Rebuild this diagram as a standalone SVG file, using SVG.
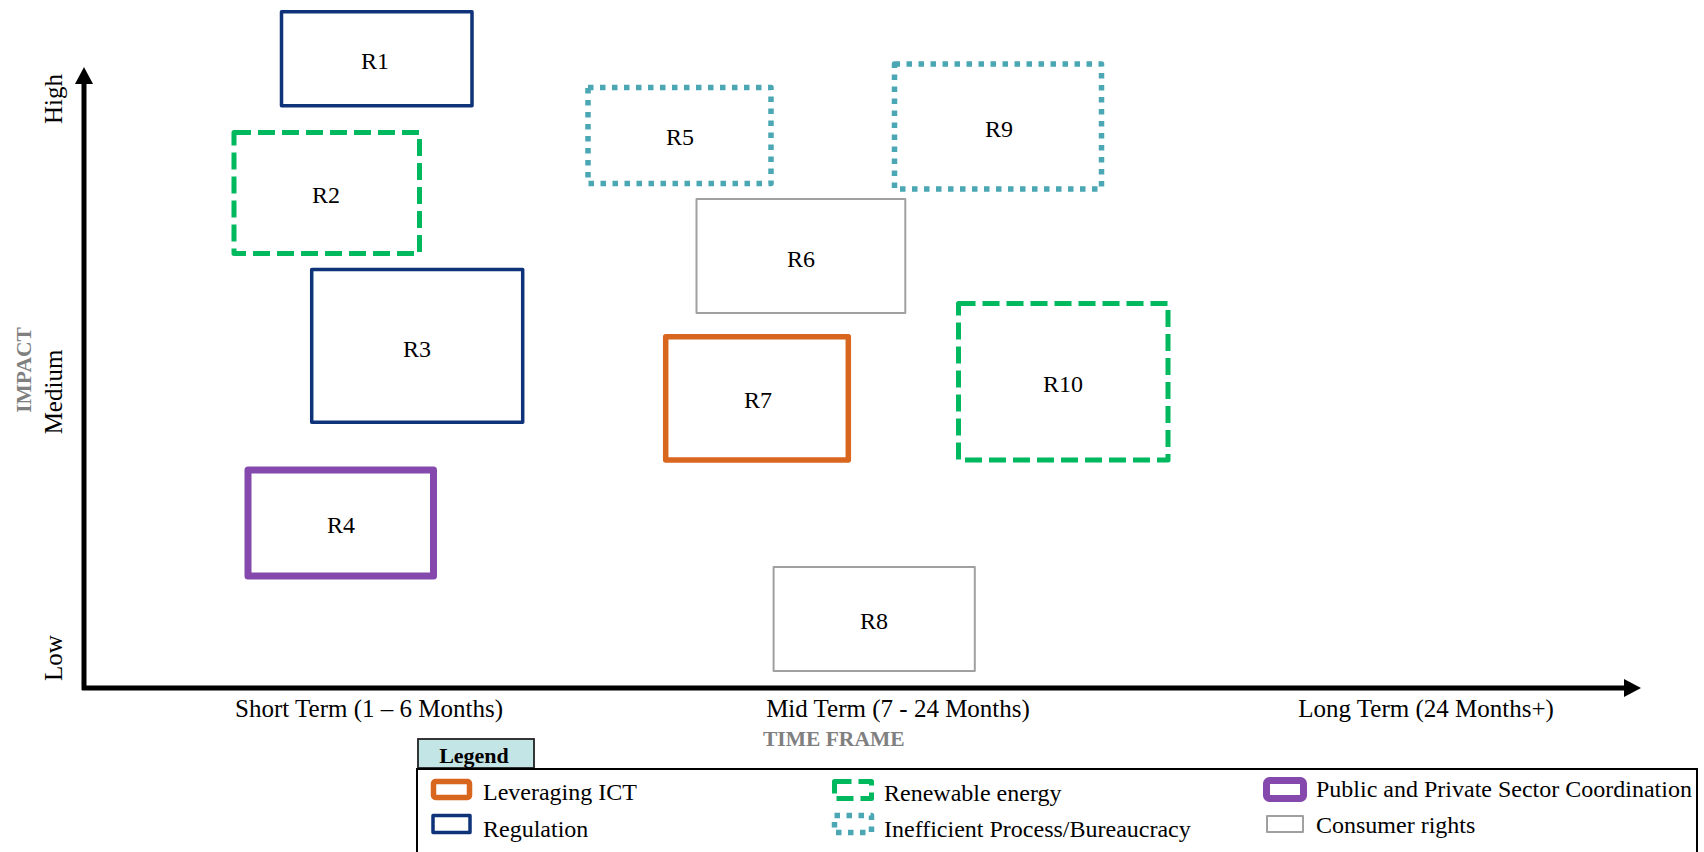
<svg xmlns="http://www.w3.org/2000/svg" width="1704" height="852" viewBox="0 0 1704 852">
<defs>
<style>
text{font-family:"Liberation Serif","Times New Roman",serif;fill:#000}
.lbl{font-size:24px;text-anchor:middle}
.ax{font-size:25px;text-anchor:middle}
.lg{font-size:24px}
.ttl{font-size:21.5px;font-weight:bold;fill:#808080}
.box{fill:#fff;stroke-linejoin:round}
.reg{stroke:#0F3379;stroke-width:3.5}
.ren{stroke:#00B85E;stroke-width:5;stroke-dasharray:17 7}
.ineff{stroke:#4AA7B3;stroke-width:5.5;stroke-dasharray:5.5 6.5}
.cons{stroke:#A0A0A0;stroke-width:2}
.ict{stroke:#D9661F;stroke-width:5.5}
.pub{stroke:#8549AE;stroke-width:7}
.axis{stroke:#000;stroke-width:5;fill:none}
</style>
<marker id="arr" viewBox="0 0 17 18" refX="1" refY="9" markerWidth="17" markerHeight="18" markerUnits="userSpaceOnUse" orient="auto">
<path d="M0,0 L17,9 L0,18 Z" fill="#000"/>
</marker>
</defs>
<rect x="0" y="0" width="1704" height="852" fill="#fff"/>

<g id="connectors">
<path class="axis" d="M84,690 L84,83" marker-end="url(#arr)"/>
<path class="axis" d="M82,688 L1625,688" marker-end="url(#arr)"/>
</g>

<g id="axis-labels">
<text class="ax" transform="translate(61.5,99) rotate(-90)">High</text>
<text class="ax" transform="translate(61.5,392) rotate(-90)">Medium</text>
<text class="ax" transform="translate(61.5,658) rotate(-90)">Low</text>
<text class="ttl" text-anchor="middle" transform="translate(30.5,370) rotate(-90)">IMPACT</text>
<text class="ax" x="369" y="717">Short Term (1 – 6 Months)</text>
<text class="ax" x="898" y="717">Mid Term (7 - 24 Months)</text>
<text class="ax" x="1426" y="717">Long Term (24 Months+)</text>
<text class="ttl" x="763" y="746">TIME FRAME</text>
</g>

<g id="R1"><rect class="box reg" x="281.5" y="11.7" width="190.5" height="94"/><text class="lbl" x="375" y="69">R1</text></g>
<g id="R2"><rect class="box ren" x="234" y="132.5" width="185.5" height="121"/><text class="lbl" x="326" y="203">R2</text></g>
<g id="R3"><rect class="box reg" x="311.7" y="269.5" width="211" height="152.7"/><text class="lbl" x="417" y="357">R3</text></g>
<g id="R4"><rect class="box pub" x="248" y="470" width="185.5" height="106"/><text class="lbl" x="341" y="533">R4</text></g>
<g id="R5"><rect class="box ineff" x="588" y="87.5" width="183" height="96"/><text class="lbl" x="680" y="145">R5</text></g>
<g id="R6"><rect class="box cons" x="696.5" y="199" width="208.8" height="114"/><text class="lbl" x="801" y="267">R6</text></g>
<g id="R7"><rect class="box ict" x="665.7" y="336.7" width="182.6" height="123.3"/><text class="lbl" x="758" y="408">R7</text></g>
<g id="R8"><rect class="box cons" x="773.6" y="567" width="201.2" height="104"/><text class="lbl" x="874" y="629">R8</text></g>
<g id="R9"><rect class="box ineff" x="894.5" y="64" width="207" height="125"/><text class="lbl" x="999" y="137">R9</text></g>
<g id="R10"><rect class="box ren" x="958.5" y="303.5" width="209.5" height="156.5"/><text class="lbl" x="1063" y="392">R10</text></g>

<g id="legend">
<rect x="418" y="739" width="116" height="29" fill="#C4E5E6" stroke="#222" stroke-width="1.8"/>
<text x="474" y="763" font-size="22" font-weight="bold" text-anchor="middle">Legend</text>
<rect x="417" y="769" width="1280" height="100" fill="none" stroke="#000" stroke-width="2"/>
<rect class="box ict" x="433.5" y="781.5" width="36" height="16" rx="2" stroke-width="4.5"/>
<text class="lg" x="483" y="800">Leveraging ICT</text>
<rect class="box reg" x="433" y="815.5" width="37" height="17"/>
<text class="lg" x="483" y="837">Regulation</text>
<rect class="box ren" x="834.5" y="781.5" width="37" height="17" stroke-dasharray="14 5"/>
<text class="lg" x="884" y="801">Renewable energy</text>
<rect class="box ineff" x="834.5" y="815.5" width="37" height="17" stroke-width="5" stroke-dasharray="5 5"/>
<text class="lg" x="884" y="837">Inefficient Process/Bureaucracy</text>
<rect class="box pub" x="1266.5" y="780.5" width="37" height="18" rx="3"/>
<text class="lg" x="1316" y="797">Public and Private Sector Coordination</text>
<rect class="box cons" x="1267" y="816" width="36" height="16"/>
<text class="lg" x="1316" y="833">Consumer rights</text>
</g>
</svg>
